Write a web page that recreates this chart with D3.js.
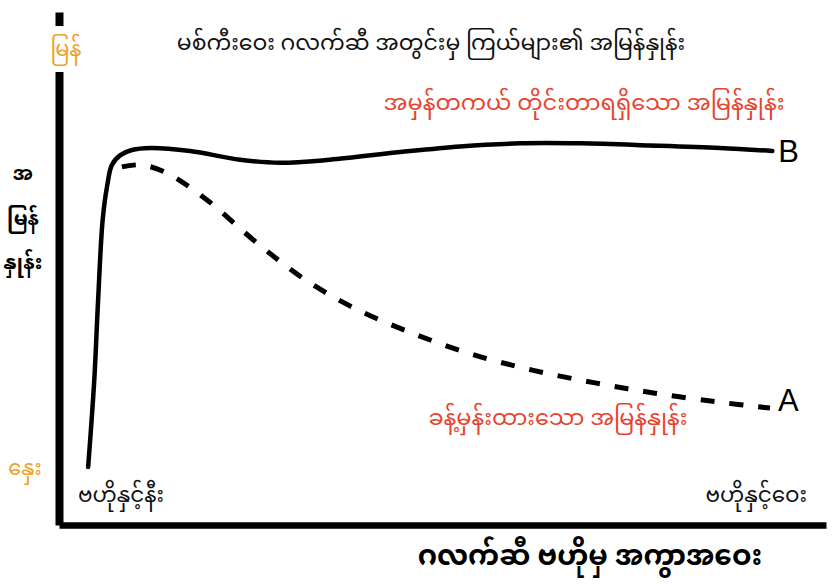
<!DOCTYPE html>
<html>
<head>
<meta charset="utf-8">
<script src="https://cdn.jsdelivr.net/npm/d3@7/dist/d3.min.js"></script>
<style>
  html, body { margin: 0; padding: 0; background: #fff; }
  svg { display: block; }
  text { font-family: "Noto Sans Myanmar", "Padauk", "Myanmar Text", "Myanmar3", "Noto Sans", "DejaVu Sans", sans-serif; }
</style>
</head>
<body>
<svg id="chart" width="836" height="588"></svg>
<script>
// ---- data ----
const titleText = "မစ်ကီးဝေး ဂလက်ဆီ အတွင်းမှ ကြယ်များ၏ အမြန်နှုန်း";
const xAxisLabel = "ဂလက်ဆီ ဗဟိုမှ အကွာအဝေး";
const yAxisLabel = ["အ", "မြန်", "နှုန်း"];
const yTopLabel = "မြန်";
const yBottomLabel = "နှေး";
const xLeftLabel = "ဗဟိုနှင့်နီး";
const xRightLabel = "ဗဟိုနှင့်ဝေး";
const seriesBName = "အမှန်တကယ် တိုင်းတာရရှိသော အမြန်နှုန်း";
const seriesAName = "ခန့်မှန်းထားသော အမြန်နှုန်း";

// distance from centre (0-100), observed speed B (0-100)
const distB = [3.8, 4.6, 5.1, 5.7, 6.3, 6.9, 8.0, 9.5, 11.9, 17.1, 23.6, 28.8, 35.3, 44.5, 52.3, 60.1, 67.9, 77.1, 86.2, 93.0];
const speedB = [11.3, 28.3, 43.9, 59.6, 66.3, 70.2, 72.1, 73.1, 73.5, 72.9, 71.2, 70.6, 71.2, 72.7, 73.8, 74.4, 74.4, 74.0, 73.5, 72.9];
// predicted speed A
const distA = [8.2, 10.6, 13.8, 19.0, 25.8, 32.1, 39.0, 46.4, 53.8, 61.7, 69.9, 77.7, 85.8, 92.7];
const speedA = [69.8, 70.2, 68.8, 63.7, 55.0, 47.8, 41.9, 37.2, 33.3, 30.2, 27.7, 25.7, 24.0, 22.8];

// ---- drawing ----
const svg = d3.select("#chart");
const x = d3.scaleLinear().domain([0, 100]).range([59, 826]);
const y = d3.scaleLinear().domain([0, 100]).range([525, 12]);

const RED = "#e8432e", ORANGE = "#f0a02c";

// axes (no ticks)
const yAxis = svg.append("g").attr("transform", `translate(${x(0)},0)`)
  .call(d3.axisLeft(y).tickValues([]).tickSizeOuter(0));
yAxis.select(".domain").attr("stroke", "#000").attr("stroke-width", 8);

const xAxis = svg.append("g").attr("transform", `translate(0,${y(0)})`)
  .call(d3.axisBottom(x).tickValues([]).tickSizeOuter(0));
xAxis.select(".domain").attr("stroke", "#000").attr("stroke-width", 6.5);

// lines
const line = d3.line().x(d => x(d[0])).y(d => y(d[1])).curve(d3.curveCatmullRom.alpha(0.5));
const ptsB = distB.map((d, i) => [d, speedB[i]]);
const ptsA = distA.map((d, i) => [d, speedA[i]]);

svg.append("path").datum(ptsB).attr("d", line)
  .attr("fill", "none").attr("stroke", "#000").attr("stroke-width", 4.5).attr("stroke-linecap", "round");
svg.append("path").datum(ptsA).attr("d", line)
  .attr("fill", "none").attr("stroke", "#000").attr("stroke-width", 5)
  .attr("stroke-dasharray", "14,15");

// curve letters
svg.append("text").attr("x", x(93.0) + 6).attr("y", y(72.9) + 11)
  .style("font-family", "'Liberation Sans', Arial, sans-serif").attr("font-size", 31).text("B");
svg.append("text").attr("x", x(92.7) + 8).attr("y", y(22.8) + 3)
  .style("font-family", "'Liberation Sans', Arial, sans-serif").attr("font-size", 31).text("A");

// title
svg.append("text").attr("x", 431).attr("y", 50).attr("text-anchor", "middle")
  .attr("font-size", 22).attr("fill", "#111").text(titleText);

// series labels
svg.append("text").attr("x", 584).attr("y", 110).attr("text-anchor", "middle")
  .attr("font-size", 22.5).attr("fill", RED).text(seriesBName);
svg.append("text").attr("x", 558).attr("y", 425).attr("text-anchor", "middle")
  .attr("font-size", 22.4).attr("fill", RED).text(seriesAName);

// y-axis end labels
const topG = svg.append("g");
topG.append("rect").attr("x", 50).attr("y", 26).attr("width", 32).attr("height", 46).attr("fill", "#fff");
topG.append("text").attr("x", 66).attr("y", 56).attr("text-anchor", "middle")
  .attr("font-size", 21).attr("fill", ORANGE).text(yTopLabel);
svg.append("text").attr("x", 25).attr("y", 475).attr("text-anchor", "middle")
  .attr("font-size", 21).attr("fill", ORANGE).text(yBottomLabel);

// y-axis label (stacked)
const yLab = svg.append("g").attr("font-weight", "bold").attr("font-size", 20).attr("fill", "#000");
[180, 225, 269].forEach((yy, i) => {
  yLab.append("text").attr("x", 23).attr("y", yy).attr("text-anchor", "middle").text(yAxisLabel[i]);
});

// x-axis end labels
svg.append("text").attr("x", 78).attr("y", 502).attr("font-size", 21.5).attr("fill", "#111").text(xLeftLabel);
svg.append("text").attr("x", 807).attr("y", 502).attr("text-anchor", "end")
  .attr("font-size", 21.5).attr("fill", "#111").text(xRightLabel);

// x-axis label
svg.append("text").attr("x", 590).attr("y", 565).attr("text-anchor", "middle")
  .attr("font-size", 28).attr("font-weight", "bold").attr("fill", "#000").text(xAxisLabel);
</script>
</body>
</html>
